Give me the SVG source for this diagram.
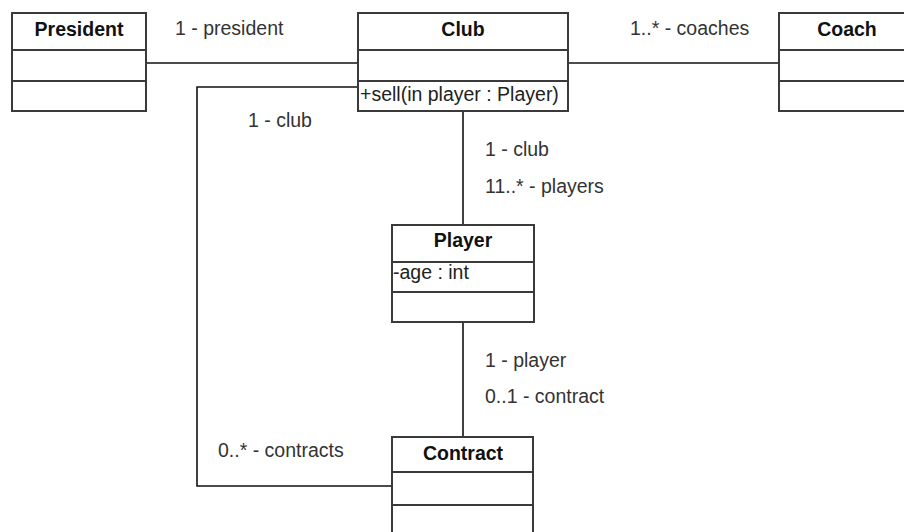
<svg xmlns="http://www.w3.org/2000/svg" width="904" height="532" viewBox="0 0 904 532">
  <style>
    .box { fill: #ffffff; stroke: #3a3a3a; stroke-width: 2; }
    .sep { stroke: #3a3a3a; stroke-width: 2; fill: none; }
    .title { font-family: "Liberation Sans", Arial, sans-serif; font-size: 19.5px; font-weight: bold; fill: #111; text-anchor: middle; }
    .member { font-family: "Liberation Sans", Arial, sans-serif; font-size: 19.5px; fill: #222; }
    .label { font-family: "Liberation Sans", Arial, sans-serif; font-size: 19.5px; fill: #333; }
    .conn { stroke: #111; stroke-width: 1.6; fill: none; }
  </style>
  <rect width="904" height="532" fill="#ffffff"/>

  <!-- associations -->
  <g id="connectors">
    <line class="conn" x1="146" y1="63" x2="358" y2="63"/>
    <line class="conn" x1="568" y1="63" x2="779" y2="63"/>
    <polyline class="conn" points="358,87 197,87 197,486 392,486"/>
    <line class="conn" x1="463" y1="111" x2="463" y2="225"/>
    <line class="conn" x1="463" y1="322" x2="463" y2="437"/>
  </g>

  <!-- association end labels -->
  <g id="labels">
    <text class="label" x="175" y="35">1 - president</text>
    <text class="label" x="630" y="35">1..* - coaches</text>
    <text class="label" x="248" y="127">1 - club</text>
    <text class="label" x="485" y="156">1 - club</text>
    <text class="label" x="485" y="193">11..* - players</text>
    <text class="label" x="485" y="367">1 - player</text>
    <text class="label" x="485" y="403">0..1 - contract</text>
    <text class="label" x="218" y="457">0..* - contracts</text>
  </g>

  <g id="president">
    <rect class="box" x="12" y="13" width="134" height="98"/>
    <line class="sep" x1="12" y1="50" x2="146" y2="50"/>
    <line class="sep" x1="12" y1="81" x2="146" y2="81"/>
    <text class="title" x="79" y="36">President</text>
  </g>

  <g id="club">
    <rect class="box" x="358" y="13" width="210" height="98"/>
    <line class="sep" x1="358" y1="50" x2="568" y2="50"/>
    <line class="sep" x1="358" y1="81" x2="568" y2="81"/>
    <text class="title" x="463" y="36">Club</text>
    <text class="member" x="360" y="101">+sell(in player : Player)</text>
  </g>

  <g id="coach">
    <rect class="box" x="779" y="13" width="136" height="98"/>
    <line class="sep" x1="779" y1="50" x2="915" y2="50"/>
    <line class="sep" x1="779" y1="81" x2="915" y2="81"/>
    <text class="title" x="847" y="36">Coach</text>
  </g>

  <g id="player">
    <rect class="box" x="392" y="225" width="142" height="97"/>
    <line class="sep" x1="392" y1="262" x2="534" y2="262"/>
    <line class="sep" x1="392" y1="292" x2="534" y2="292"/>
    <text class="title" x="463" y="247">Player</text>
    <text class="member" x="393" y="279">-age : int</text>
  </g>

  <g id="contract">
    <rect class="box" x="392" y="437" width="141" height="102"/>
    <line class="sep" x1="392" y1="472" x2="533" y2="472"/>
    <line class="sep" x1="392" y1="505" x2="533" y2="505"/>
    <text class="title" x="463" y="460">Contract</text>
  </g>
</svg>
